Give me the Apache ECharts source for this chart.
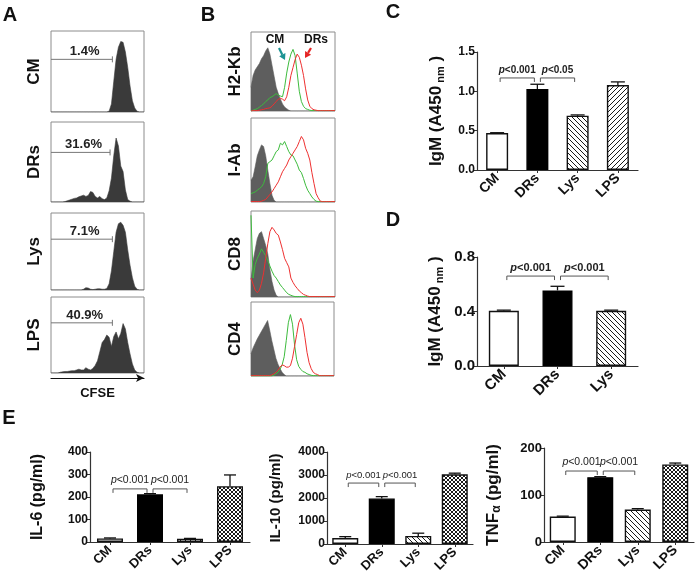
<!DOCTYPE html>
<html><head><meta charset="utf-8">
<script src="https://cdn.jsdelivr.net/npm/echarts@6/dist/echarts.min.js"></script>
<style>html,body{margin:0;padding:0;background:#fff}#c{width:697px;height:578px}</style>
</head><body><div id="c"></div>
<script>
const FONT = '"Liberation Sans", Arial, Helvetica, sans-serif';

// ---------- data ----------
const cats4 = ['CM', 'DRs', 'Lys', 'LPS'];
const cats3 = ['CM', 'DRs', 'Lys'];

// Panel A: CFSE histograms (% of box height, 41 bins)
const rowA = ['CM', 'DRs', 'Lys', 'LPS'];
const gatePct = ['1.4%', '31.6%', '7.1%', '40.9%'];
const gateEnd = [26.4, 25.4, 26.4, 26.4];
const gateLevel = [65, 62, 66, 66];
const histA_CM  = [0,0,0,0,0,0,0,0,0,0, 0,0,0,0,0,0,0,0,0,0, 0,0,0,0,0,1,10,38,65,80, 87,86,74,55,32,14,5,1,0,0, 0];
const histA_DRs = [0,0,0,0,0,0,0.5,1.5,2.5,3.5, 4.5,5,6.5,7.5,8.5,7,8,13,12,7, 5,7,4,3,5,14,30,58,80,70, 45,38,15,3,1,0,0,0,0,0, 0];
const histA_Lys = [0,0,0,0,0,0,0,0,0,0, 0,0,0,0,1,3,2.5,1,0.5,1, 1.5,1.5,1,1,2,8,25,50,75,86, 88,84,75,52,32,16,5,1,0,0, 0];
const histA_LPS = [0,0,0,0,1,1.5,2,2,2.5,3, 3,4,5,4,4,7,5,4,6,10, 16,28,40,44,50,47,35,48,54,45, 52,65,58,40,25,12,4,1,0,0, 0];

// Panel B: surface markers (gray = isotype, green = CM, red = DRs)
const rowB = ['H2-Kb', 'I-Ab', 'CD8', 'CD4'];
const grayH2Kb  = [30,45,52,56,60,66,70,76,80,72, 58,44,30,22,15,9,5,3,1,0, 0,0,0,0,0,0,0,0,0,0, 0,0,0,0,0,0,0,0,0,0, 0];
const greenH2Kb = [0,1,2,3,5,7,9,12,14,17, 18,20,22,20,19,18,30,48,62,72, 78,70,48,25,12,6,3,2,1,0.5, 0.5,0.5,0.5,0.5,0.5,0.5,0.5,0.5,0.5,0.5, 0.5];
const redH2Kb   = [0,0.5,0.5,0.5,1,1.5,2,3,3.5,4, 6,9,12,15,16,15,13,18,30,45, 55,65,72,68,58,45,28,14,6,3, 1.5,1,0.5,0.5,0.5,0.5,0.5,0.5,0.5,0.5, 0.5];
const grayIAb   = [26,30,42,55,62,68,66,55,38,22, 8,2,0,0,0,0,0,0,0,0, 0,0,0,0,0,0,0,0,0,0, 0,0,0,0,0,0,0,0,0,0, 0];
const greenIAb  = [10,11,12,14,16,18,22,30,46,48, 50,55,60,62,70,68,72,66,60,56, 55,50,45,38,35,28,20,14,10,6, 3,1,0.5,0.5,0.5,0.5,0.5,0.5,0.5,0.5, 0.5];
const redIAb    = [0.5,0.5,0.5,0.5,0.5,1,2,3,6,9, 12,16,20,24,30,36,40,44,50,54, 58,62,66,72,78,74,64,58,50,35, 22,10,5,1,0.5,0.5,0.5,0.5,0.5,0.5, 0.5];
const grayCD8   = [20,42,55,68,74,76,68,60,50,32, 18,8,2,0,0,0,0,0,0,0, 0,0,0,0,0,0,0,0,0,0, 0,0,0,0,0,0,0,0,0,0, 0];
const greenCD8  = [95,22,38,45,50,56,52,48,42,36, 30,25,22,18,14,11,8,5,3,2, 1,0.5,0.5,0.5,0.5,0.5,0.5,0.5,0.5,0.5, 0.5,0.5,0.5,0.5,0.5,0.5,0.5,0.5,0.5,0.5, 0.5];
const redCD8    = [22,15,8,5,8,16,28,45,62,76, 81,78,74,72,64,55,45,40,35,22, 17,13,10,7,5,3,2,1,0.5,0.5, 0.5,0.5,0.5,0.5,0.5,0.5,0.5,0.5,0.5,0.5, 0.5];
const grayCD4   = [30,38,44,50,55,60,65,70,75,62, 48,36,24,16,10,5,2,0,0,0, 0,0,0,0,0,0,0,0,0,0, 0,0,0,0,0,0,0,0,0,0, 0];
const greenCD4  = [0,0,0,0,0,0,0,0,0,0, 0,1,3,5,9,15,26,48,72,83, 70,42,22,13,9,6,5,3,2,1, 0.5,0.5,0.5,0.5,0.5,0.5,0.5,0.5,0.5,0.5, 0.5];
const redCD4    = [0.5,0.5,0.5,0.5,0.5,0.5,0.5,0.5,0.5,0.5, 1.5,3,5,8,12,15,14,12,12,14, 24,40,56,72,78,70,52,32,18,10, 5,3,2,0.5,0.5,0.5,0.5,0.5,0.5,0.5, 0.5];

// Panel C: IgM (A450nm)
const igmC = [0.47, 1.03, 0.69, 1.08];
const igmCErr = [0.004, 0.06, 0.01, 0.04];
const yTicksC = [0, 0.5, 1.0, 1.5];
const sigPairsC = [[0, 1], [1, 2]];
const sigLabelsC = ['p<0.001', 'p<0.05'];

// Panel D: IgM (A450nm)
const igmD = [0.405, 0.555, 0.405];
const igmDErr = [0.005, 0.03, 0.005];
const yTicksD = [0, 0.4, 0.8];
const sigPairsD = [[0, 1], [1, 2]];
const sigLabelsD = ['p<0.001', 'p<0.001'];

// Panel E: cytokines
const il6 = [16, 212, 15, 248];
const il6Err = [2, 3, 1, 50];
const yTicksIL6 = [0, 100, 200, 300, 400];
const il10 = [260, 1980, 350, 3030];
const il10Err = [60, 80, 120, 50];
const yTicksIL10 = [0, 1000, 2000, 3000, 4000];
const tnf = [54, 138, 69, 165];
const tnfErr = [1, 1, 2, 3];
const yTicksTNF = [0, 100, 200];
const sigPairsE = [[0, 1], [1, 2]];
const sigLabelsE = ['p<0.001', 'p<0.001'];

// ---------- patterns ----------
function pattern(kind, s) {
  const c = document.createElement('canvas'); c.width = s; c.height = s;
  const x = c.getContext('2d');
  x.fillStyle = '#fff'; x.fillRect(0, 0, s, s);
  x.strokeStyle = '#1a1a1a'; x.lineWidth = 1;
  x.beginPath();
  if (kind === 'back' || kind === 'cross') {
    x.moveTo(-1, -1); x.lineTo(s + 1, s + 1);
    x.moveTo(-1, s - 1); x.lineTo(1, s + 1);
    x.moveTo(s - 1, -1); x.lineTo(s + 1, 1);
  }
  if (kind === 'fwd' || kind === 'cross') {
    x.moveTo(-1, s + 1); x.lineTo(s + 1, -1);
    x.moveTo(-1, 1); x.lineTo(1, -1);
    x.moveTo(s - 1, s + 1); x.lineTo(s + 1, s - 1);
  }
  x.stroke();
  return { image: c, repeat: 'repeat' };
}
const BW = 1.4;
const stWhite = { color: '#fff', borderColor: '#111', borderWidth: BW };
const stBlack = { color: '#000', borderColor: '#000', borderWidth: BW };
const stBack = { color: pattern('back', 5), borderColor: '#111', borderWidth: BW };
const stFwd = { color: pattern('fwd', 5), borderColor: '#111', borderWidth: BW };
const stCross = { color: pattern('cross', 4), borderColor: '#111', borderWidth: BW };

// ---------- layout ----------
const grids = [
  { left: 51, top: 31, width: 93, height: 81 },
  { left: 51, top: 122, width: 93, height: 80 },
  { left: 51, top: 213, width: 93, height: 77 },
  { left: 51, top: 297, width: 93, height: 76 },
  { left: 251, top: 32, width: 84, height: 79 },
  { left: 251, top: 118, width: 84, height: 84 },
  { left: 251, top: 211, width: 84, height: 86 },
  { left: 251, top: 302, width: 83, height: 74 },
  { left: 477, top: 52, width: 161, height: 118 },
  { left: 477, top: 257, width: 161, height: 109 },
  { left: 90, top: 452, width: 160, height: 90 },
  { left: 327, top: 452, width: 146, height: 92 },
  { left: 544, top: 448, width: 150, height: 94 }
].map((g, i) => Object.assign({ containLabel: false, show: i < 8, borderColor: '#8c8c8c', borderWidth: 1, backgroundColor: 'transparent' }, g));

const xAxes = [], yAxes = [], series = [];

// histogram axes
const rowNames = rowA.concat(rowB);
for (let g = 0; g < 8; g++) {
  const isLast = g === 3;
  xAxes.push({
    gridIndex: g, type: 'value', min: 0, max: 40, show: isLast,
    axisLine: { show: isLast, onZero: false, symbol: ['none', 'arrow'], symbolSize: [6, 8], lineStyle: { color: '#111', width: 1.2 } },
    offset: 5, axisTick: { show: false }, axisLabel: { show: false }, splitLine: { show: false },
    name: isLast ? 'CFSE' : '', nameLocation: 'middle', nameGap: 9,
    nameTextStyle: { fontFamily: FONT, fontWeight: 'bold', fontSize: 13, color: '#111', verticalAlign: 'top' }
  });
  yAxes.push({
    gridIndex: g, type: 'value', min: 0, max: 100,
    axisLine: { show: false }, axisTick: { show: false }, axisLabel: { show: false }, splitLine: { show: false },
    name: rowNames[g], nameLocation: 'middle', nameGap: g < 4 ? 8 : 7,
    nameTextStyle: { fontFamily: FONT, fontWeight: 'bold', fontSize: 17, color: '#111' }
  });
}

function histSeries(g, arr, line, fill) {
  const s = {
    type: 'line', xAxisIndex: g, yAxisIndex: g, showSymbol: false, silent: true,
    data: arr.map((v, i) => [i, v]),
    lineStyle: { color: line, width: fill ? 0.6 : 1 }, z: fill ? 1 : 2
  };
  if (fill) s.areaStyle = { color: fill, opacity: 1 };
  return s;
}
[histA_CM, histA_DRs, histA_Lys, histA_LPS].forEach((a, k) => series.push(histSeries(k, a, '#3a3a3a', '#3a3a3a')));
const GREEN = '#3dbb3d', RED = '#ee3030', GRAY = '#5e5e5e';
[[grayH2Kb, greenH2Kb, redH2Kb], [grayIAb, greenIAb, redIAb], [grayCD8, greenCD8, redCD8], [grayCD4, greenCD4, redCD4]]
  .forEach((set, k) => {
    series.push(histSeries(4 + k, set[0], GRAY, GRAY));
    series.push(histSeries(4 + k, set[1], GREEN));
    series.push(histSeries(4 + k, set[2], RED));
  });

// gates in A
for (let k = 0; k < 4; k++) {
  series.push({
    type: 'custom', xAxisIndex: k, yAxisIndex: k, z: 5, silent: true,
    data: [[gateEnd[k], gateLevel[k]]],
    renderItem: (p, api) => {
      const e = api.coord([api.value(0), api.value(1)]);
      const s = api.coord([0, api.value(1)]);
      return { type: 'group', children: [
        { type: 'line', shape: { x1: s[0], y1: e[1], x2: e[0], y2: e[1] }, style: { stroke: '#777', lineWidth: 1 } },
        { type: 'line', shape: { x1: e[0], y1: e[1] - 3, x2: e[0], y2: e[1] + 3 }, style: { stroke: '#777', lineWidth: 1 } },
        { type: 'text', x: (s[0] + e[0]) / 2 + 3, y: e[1] - 1, style: { text: gatePct[k], align: 'center', verticalAlign: 'bottom', fontFamily: FONT, fontWeight: 'bold', fontSize: 13, fill: '#222' } }
      ] };
    }
  });
}

// bar chart axes
function catAxis(g, cats, fs) {
  return {
    gridIndex: g, type: 'category', data: cats,
    axisLine: { show: true, lineStyle: { color: '#333', width: 1.2 } },
    axisTick: { show: true, alignWithLabel: true, length: 3, lineStyle: { color: '#333' } },
    axisLabel: { rotate: 45, interval: 0, margin: 6, fontFamily: FONT, fontWeight: 'bold', fontSize: fs, color: '#111' },
    splitLine: { show: false }
  };
}
function valAxis(g, ticks, fs, dec, name, gap, nameFs, rich) {
  return {
    gridIndex: g, type: 'value', min: ticks[0], max: ticks[ticks.length - 1], interval: ticks[1] - ticks[0],
    axisLine: { show: true, lineStyle: { color: '#333', width: 1.2 } },
    axisTick: { show: true, length: 4, lineStyle: { color: '#333' } },
    splitLine: { show: false },
    axisLabel: { margin: 2, fontFamily: FONT, fontWeight: 'bold', fontSize: fs, color: '#111', formatter: v => v.toFixed(dec) },
    name, nameLocation: 'middle', nameGap: gap,
    nameTextStyle: { fontFamily: FONT, fontWeight: 'bold', fontSize: nameFs, color: '#111', rich }
  };
}
function igmRich(fs) {
  return {
    a: { fontFamily: FONT, fontWeight: 'bold', fontSize: fs, color: '#111', lineHeight: 20 },
    s: { fontFamily: FONT, fontWeight: 'bold', fontSize: fs - 6, color: '#111', lineHeight: 8, verticalAlign: 'bottom' }
  };
}
xAxes.push(catAxis(8, cats4, 14));
yAxes.push(valAxis(8, yTicksC, 12, 1, '{a|IgM (A450}{s| nm}{a| )}', 31, 17, igmRich(17)));
xAxes.push(catAxis(9, cats3, 15));
yAxes.push(valAxis(9, yTicksD, 15, 1, '{a|IgM (A450}{s| nm}{a| )}', 32, 17, igmRich(17)));
xAxes.push(catAxis(10, cats4, 13));
yAxes.push(valAxis(10, yTicksIL6, 12, 0, 'IL-6 (pg/ml)', 44, 16));
xAxes.push(catAxis(11, cats4, 13));
yAxes.push(valAxis(11, yTicksIL10, 12, 0, 'IL-10 (pg/ml)', 44, 15));
xAxes.push(catAxis(12, cats4, 14));
yAxes.push(valAxis(12, yTicksTNF, 13, 0, '{a|TNF}{s|α}{a| (pg/ml)}', 41, 17, {
  a: { fontFamily: FONT, fontWeight: 'bold', fontSize: 17, color: '#111', lineHeight: 20 },
  s: { fontFamily: FONT, fontWeight: 'bold', fontSize: 12, color: '#111', lineHeight: 10, verticalAlign: 'bottom' }
}));

function barSeries(g, vals, styles, bw) {
  return { type: 'bar', xAxisIndex: g, yAxisIndex: g, barWidth: bw, z: 2, silent: true,
    data: vals.map((v, i) => ({ value: v, itemStyle: styles[i] })) };
}
function errSeries(g, vals, errs, cap) {
  return { type: 'custom', xAxisIndex: g, yAxisIndex: g, z: 3, silent: true, encode: { x: 0, y: 1 },
    data: vals.map((v, i) => [i, v, errs[i]]),
    renderItem: (p, api) => {
      const i = api.value(0), v = api.value(1), e = api.value(2);
      const a = api.coord([i, v]), b = api.coord([i, v + e]);
      return { type: 'group', children: [
        { type: 'line', shape: { x1: a[0], y1: a[1], x2: b[0], y2: b[1] }, style: { stroke: '#111', lineWidth: 1.3 } },
        { type: 'line', shape: { x1: b[0] - cap / 2, y1: b[1], x2: b[0] + cap / 2, y2: b[1] }, style: { stroke: '#111', lineWidth: 1.3 } }
      ] };
    } };
}
function sigSeries(g, pairs, labels, level, fs, bold) {
  return { type: 'custom', xAxisIndex: g, yAxisIndex: g, z: 4, silent: true, encode: { x: [0, 1] },
    data: pairs,
    renderItem: (p, api) => {
      const a = api.coord([api.value(0), level]), b = api.coord([api.value(1), level]);
      const x1 = a[0] + 3, x2 = b[0] - 3, y = a[1];
      const lab = labels[p.dataIndex];
      return { type: 'group', children: [
        { type: 'polyline', shape: { points: [[x1, y + 4], [x1, y], [x2, y], [x2, y + 4]] }, style: { stroke: '#555', fill: null, lineWidth: 1 } },
        { type: 'text', x: (x1 + x2) / 2, y: y - 3, style: {
          text: '{i|p}{n|' + lab.slice(1) + '}', align: 'center', verticalAlign: 'bottom',
          rich: {
            i: { fontFamily: FONT, fontStyle: 'italic', fontWeight: bold ? 'bold' : 'normal', fontSize: fs, fill: '#222' },
            n: { fontFamily: FONT, fontWeight: bold ? 'bold' : 'normal', fontSize: fs, fill: '#222' }
          } } }
      ] };
    } };
}

// C
series.push(barSeries(8, igmC, [stWhite, stBlack, stBack, stFwd], 22));
series.push(errSeries(8, igmC, igmCErr, 14));
series.push(sigSeries(8, sigPairsC, sigLabelsC, 1.17, 10, true));
// D
series.push(barSeries(9, igmD, [stWhite, stBlack, stBack], 30));
series.push(errSeries(9, igmD, igmDErr, 14));
series.push(sigSeries(9, sigPairsD, sigLabelsD, 0.66, 11, true));
// E
series.push(barSeries(10, il6, [stWhite, stBlack, stBack, stCross], 26));
series.push(errSeries(10, il6, il6Err, 12));
series.push(sigSeries(10, sigPairsE, sigLabelsE, 236, 10.5, false));
series.push(barSeries(11, il10, [stWhite, stBlack, stBack, stCross], 26));
series.push(errSeries(11, il10, il10Err, 12));
series.push(sigSeries(11, sigPairsE, sigLabelsE, 2650, 9.5, false));
series.push(barSeries(12, tnf, [stWhite, stBlack, stBack, stCross], 26));
series.push(errSeries(12, tnf, tnfErr, 12));
series.push(sigSeries(12, sigPairsE, sigLabelsE, 151, 10.5, false));

// ---------- annotations ----------
function letter(t, x, y) {
  return { type: 'text', x, y, style: { text: t, align: 'center', verticalAlign: 'middle', fontFamily: FONT, fontWeight: 'bold', fontSize: 20, fill: '#111' } };
}
function arrow(x1, y1, x2, y2, color) {
  const ang = Math.atan2(y2 - y1, x2 - x1), L = 6, W = 3.5;
  const bx = x2 - L * Math.cos(ang), by = y2 - L * Math.sin(ang);
  const nx = -Math.sin(ang) * W, ny = Math.cos(ang) * W;
  return [
    { type: 'line', shape: { x1, y1, x2: bx, y2: by }, style: { stroke: color, lineWidth: 2.2 } },
    { type: 'polygon', shape: { points: [[x2, y2], [bx + nx, by + ny], [bx - nx, by - ny]] }, style: { fill: color } }
  ];
}
const graphic = [
  letter('A', 10, 15), letter('B', 208, 15), letter('C', 393, 12), letter('D', 393, 220), letter('E', 9, 418),
  { type: 'text', x: 275, y: 40, style: { text: 'CM', align: 'center', verticalAlign: 'middle', fontFamily: FONT, fontWeight: 'bold', fontSize: 12, fill: '#111' } },
  { type: 'text', x: 316, y: 40, style: { text: 'DRs', align: 'center', verticalAlign: 'middle', fontFamily: FONT, fontWeight: 'bold', fontSize: 12, fill: '#111' } }
].concat(arrow(279, 48, 285, 60, '#1b9393')).concat(arrow(311, 48, 305, 58, '#e52525'));

const chart = echarts.init(document.getElementById('c'), null, { renderer: 'canvas' });
chart.setOption({
  animation: false,
  backgroundColor: '#fff',
  grid: grids, xAxis: xAxes, yAxis: yAxes, series, graphic
});
</script></body></html>
